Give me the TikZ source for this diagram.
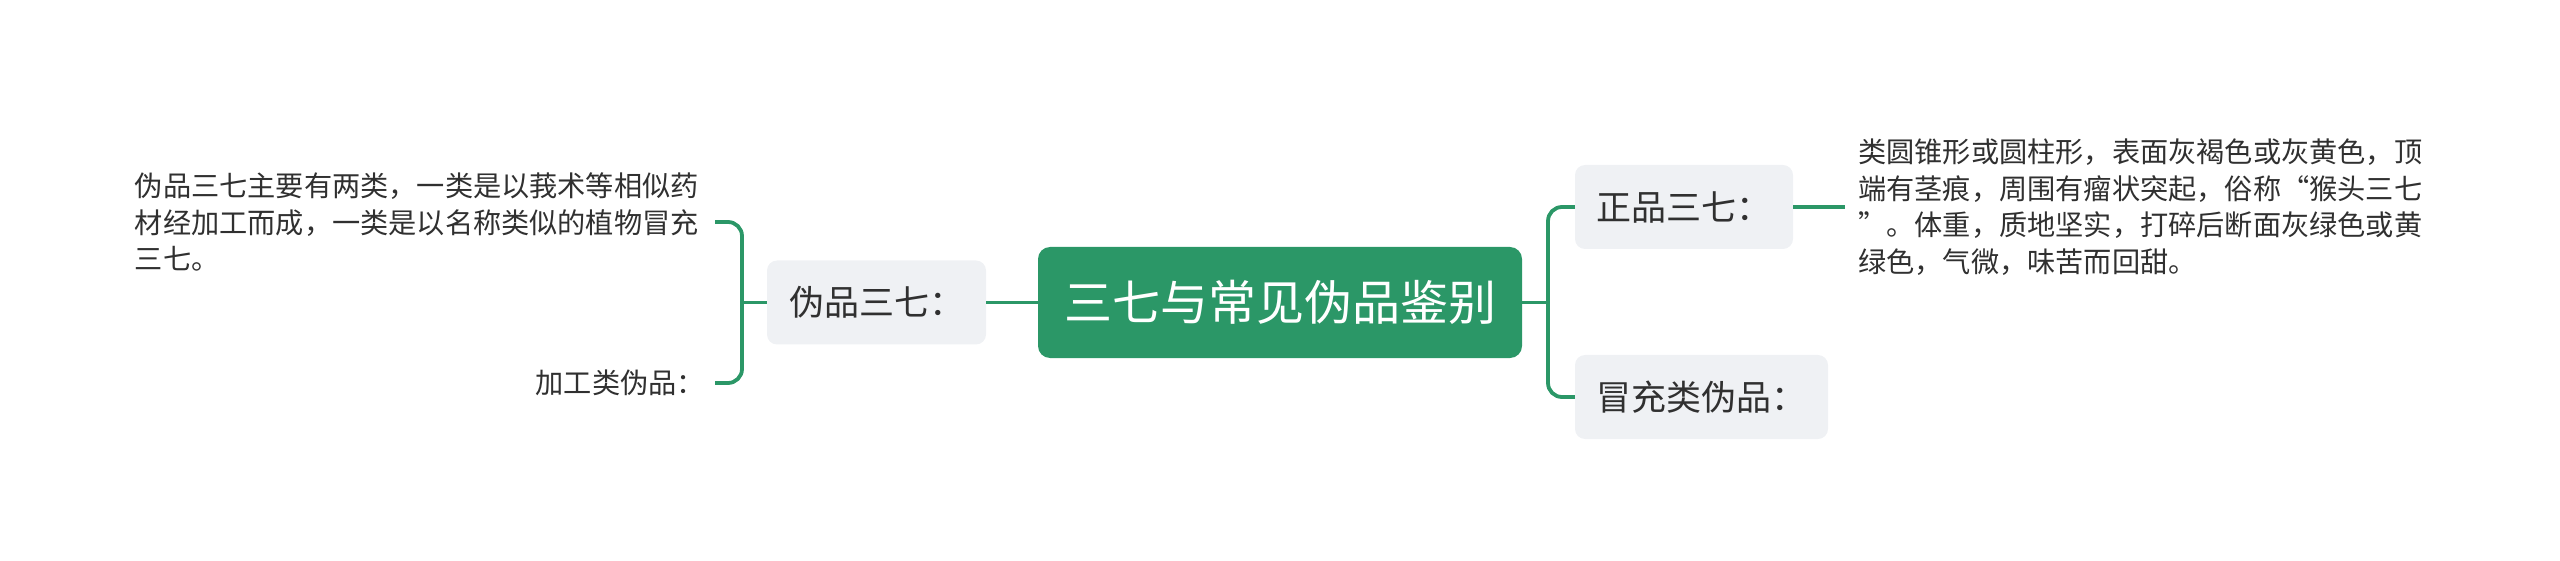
\documentclass[tikz,border=0pt]{standalone}
\usepackage{fontspec}
\setmainfont{Noto Sans CJK SC}
\definecolor{mgreen}{HTML}{2B9767}
\definecolor{subgray}{HTML}{EFF1F4}
\definecolor{txt}{HTML}{303030}
\begin{document}
\begin{tikzpicture}[x=1pt,y=-1pt,
  root/.style={fill=mgreen, text=white, rounded corners=12pt, minimum width=484pt, minimum height=111pt, inner sep=0pt, font=\fontsize{48}{56}\selectfont},
  sub/.style={fill=subgray, text=txt, rounded corners=10pt, minimum height=84pt, inner sep=0pt, font=\fontsize{35}{40}\selectfont},
  leaf/.style={text=txt, inner xsep=10pt, inner ysep=0pt, font=\fontsize{28.2}{36.5}\selectfont},
  conn/.style={draw=mgreen, line width=3.8pt, rounded corners=14pt}
]
\useasboundingbox (0,0) rectangle (2560,561);
\node[root] (c) at (1280,302.5) {三七与常见伪品鉴别};
\node[sub, minimum width=219pt] (wp) at (876.5,302.5) {伪品三七：};
\node[sub, minimum width=218pt] (zp) at (1684,207) {正品三七：};
\node[sub, minimum width=253pt] (mc) at (1701.5,397) {冒充类伪品：};
\node[leaf, anchor=east, text width=570pt, align=left] (lp) at (715,222) {伪品三七主要有两类，一类是以莪术等相似药\\材经加工而成，一类是以名称类似的植物冒充\\三七。};
\node[leaf, anchor=east, align=right] (jg) at (715,383) {加工类伪品：};
\node[leaf, anchor=west, text width=575pt, align=left, inner xsep=13pt] (rp) at (1845,207) {类圆锥形或圆柱形，表面灰褐色或灰黄色，顶\\端有茎痕，周围有瘤状突起，俗称“猴头三七\\”。体重，质地坚实，打碎后断面灰绿色或黄\\绿色，气微，味苦而回甜。};
\coordinate (bl) at (742,302.5);
\coordinate (br) at (1548,302.5);
\draw[conn] (c.west) -- (wp.east);
\draw[conn] (wp.west) -- (bl);
\draw[conn] (lp.east) -| (bl) |- (jg.east);
\draw[conn] (c.east) -- (br);
\draw[conn] (zp.west) -| (br) |- (mc.west);
\draw[conn] (zp.east) -- (rp.west);
\end{tikzpicture}
\end{document}
